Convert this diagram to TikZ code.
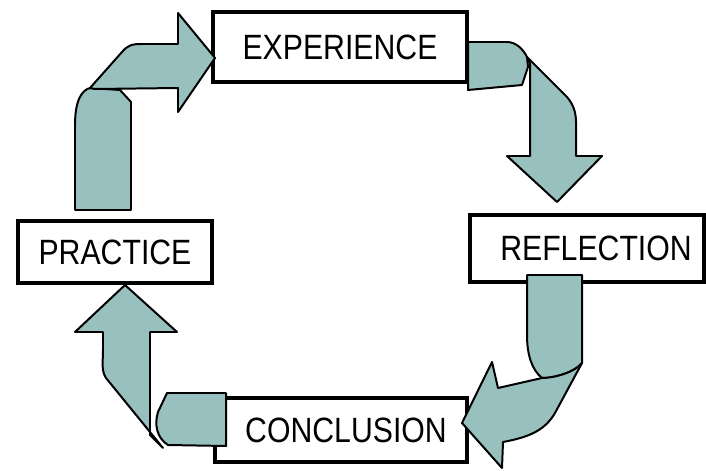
\documentclass[tikz,border=0pt]{standalone}
\usepackage{fontspec}
\setmainfont{Liberation Sans}
\definecolor{Gris}{RGB}{152,192,190}

\newcommand{\Mot}[1]{\scalebox{0.86}[1]{#1}}
\tikzset{every node/.style={font=\fontsize{30}{34}\selectfont}}
\tikzset{Boite/.style={draw,black,line width=3pt,fill=white,rectangle,inner sep=0pt}}
\tikzset{Fleche/.style={draw,black,line width=1.7pt,fill=Gris,line join=round}}

\begin{document}
\begin{tikzpicture}[x=0.3mm,y=-0.3mm]
\useasboundingbox (0,0) rectangle (706,471);

\node[Boite,minimum width=76.2mm,minimum height=21mm] (EXP) at (340,47) {\Mot{EXPERIENCE}};
\node[Boite,minimum width=70.2mm,minimum height=20.1mm] (REF) at (587,248.5) {\hspace*{5.4mm}\Mot{REFLECTION}};
\node[Boite,minimum width=75.6mm,minimum height=19.2mm] (CON) at (341,430) {\hspace*{3mm}\Mot{CONCLUSION}};
\node[Boite,minimum width=58.2mm,minimum height=18.6mm] (PRA) at (115,252) {\Mot{PRACTICE}};

% pratique -> experience
\draw[Fleche] (75,210) -- (75,125) .. controls (75,100) and (82,90) .. (90,88) -- (120,90) -- (131,102) -- (131,210) -- cycle;
\draw[Fleche] (90,88) -- (122,52) .. controls (128,45) and (132,44) .. (142,44) -- (178,44) -- (178,13) -- (215,58) -- (178,112) -- (178,88) -- (95,89) -- cycle;

% experience -> reflexion
\draw[Fleche] (468,42) -- (507,42) .. controls (516,42) and (523,49) .. (527,57) -- (528,67) -- (522,85) -- (468,90) -- cycle;
\draw[Fleche] (527,57) -- (567,97) .. controls (573,104) and (576,112) .. (576,122) -- (576,156) -- (602,156) -- (557,202) -- (507,156) -- (530,156) -- (530,64) -- cycle;

% reflexion -> conclusion
\draw[Fleche] (527,275) -- (582,275) -- (582,363) .. controls (575,372) and (555,378) .. (542,378) .. controls (532,370) and (527,355) .. (527,335) -- cycle;
\draw[Fleche] (542,378) -- (498,388) -- (492,362) -- (462,423) -- (502,468) -- (503,442) .. controls (530,437) and (545,430) .. (555,413) -- (582,363) .. controls (575,372) and (555,378) .. (542,378) -- cycle;

% conclusion -> pratique
\draw[Fleche] (226,393) -- (167,393) -- (158,412) .. controls (154,425) and (157,438) .. (168,445) -- (226,446) -- cycle;
\draw[Fleche] (163,448) -- (106,378) .. controls (101,370) and (103,362) .. (103,350) -- (103,332) -- (75,332) -- (125,285) -- (177,332) -- (150,332) -- (150,435) -- cycle;

\end{tikzpicture}
\end{document}
